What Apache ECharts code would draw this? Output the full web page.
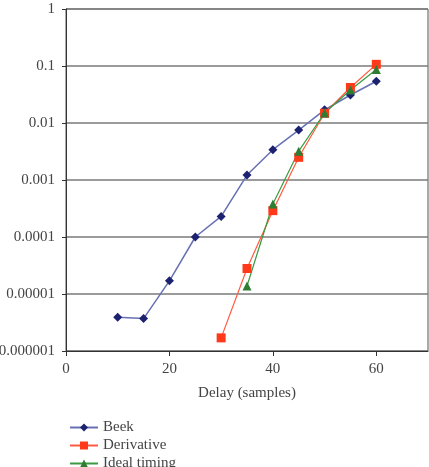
<!DOCTYPE html>
<html lang="en">
<head>
    <meta charset="UTF-8">
    <title>Delay chart</title>
    <script src="https://cdn.jsdelivr.net/npm/echarts@6/dist/echarts.min.js"></script>
</head>
<body style="margin:0;background:#fff;">
<div id="main" style="width:429px;height:467px;"></div>
<script type="text/javascript">
    // x values (samples)
    var beekX = [10, 15, 20, 25, 30, 35, 40, 45, 50, 55, 60];
    var beekY = [3.9e-6, 3.7e-6, 1.7e-5, 1.0e-4, 2.3e-4, 1.22e-3, 3.4e-3, 7.5e-3, 0.017, 0.031, 0.054];
    var derivX = [30, 35, 40, 45, 50, 55, 60];
    var derivY = [1.7e-6, 2.8e-5, 2.9e-4, 2.5e-3, 0.0148, 0.042, 0.107];
    var idealX = [35, 40, 45, 50, 55, 60];
    var idealY = [1.38e-5, 3.8e-4, 3.2e-3, 0.015, 0.038, 0.087];
    var xTickLabels = ['0', '20', '40', '60'];
    var yTickLabels = ['0.000001', '0.00001', '0.0001', '0.001', '0.01', '0.1', '1'];

    function pairs(xs, ys) {
        var out = [];
        for (var i = 0; i < xs.length; i++) out.push([xs[i], ys[i]]);
        return out;
    }

    var font = '"Liberation Serif", "DejaVu Serif", serif';
    var myChart = echarts.init(document.getElementById('main'));
    var option = {
        animation: false,
        textStyle: {fontFamily: font},
        grid: {
            left: 66, right: 1, top: 9, bottom: 116, show: true,
            borderColor: '#555', borderWidth: 1, outerBoundsMode: 'none'
        },
        legend: {
            orient: 'vertical', left: 64, top: 415, height: 80, itemGap: 3,
            itemWidth: 28, itemHeight: 10,
            textStyle: {fontFamily: font, fontSize: 15, color: '#444'},
            data: ['Beek', 'Derivative', 'Ideal timing']
        },
        xAxis: {
            type: 'value', min: 0, max: 70, interval: 20,
            name: 'Delay (samples)', nameLocation: 'middle', nameGap: 35,
            nameTextStyle: {fontFamily: font, fontSize: 15, color: '#444'},
            axisLine: {lineStyle: {color: '#333'}},
            axisTick: {show: true, length: 5, lineStyle: {color: '#333'}},
            splitLine: {show: false},
            axisLabel: {
                fontFamily: font, fontSize: 15, color: '#444', margin: 11,
                showMaxLabel: false,
                formatter: function (v) {
                    var i = xTickLabels.indexOf(String(v));
                    return i >= 0 ? xTickLabels[i] : '';
                }
            }
        },
        yAxis: {
            type: 'log', logBase: 10, min: 1e-6, max: 1,
            axisLine: {show: true, lineStyle: {color: '#333'}},
            axisTick: {show: true, length: 4, lineStyle: {color: '#333'}},
            splitLine: {show: true, lineStyle: {color: '#7a7a7a', width: 1.5}},
            axisLabel: {
                fontFamily: font, fontSize: 15, color: '#444', margin: 11,
                formatter: function (v) {
                    var k = Math.round(Math.log10(v)) + 6;
                    return yTickLabels[k] || '';
                }
            }
        },
        series: [
            {
                name: 'Beek', type: 'line', data: pairs(beekX, beekY),
                symbol: 'diamond', symbolSize: 9,
                itemStyle: {color: '#1c2270'},
                lineStyle: {color: '#6870b4', width: 1.5}
            },
            {
                name: 'Derivative', type: 'line', data: pairs(derivX, derivY),
                symbol: 'rect', symbolSize: 9,
                itemStyle: {color: '#ff3a1a'},
                lineStyle: {color: '#ff5a40', width: 1.2}
            },
            {
                name: 'Ideal timing', type: 'line', data: pairs(idealX, idealY),
                symbol: 'triangle', symbolSize: 9,
                itemStyle: {color: '#2e7d32'},
                lineStyle: {color: '#3a9a40', width: 1.2}
            }
        ]
    };
    myChart.setOption(option);
</script>
</body>
</html>
